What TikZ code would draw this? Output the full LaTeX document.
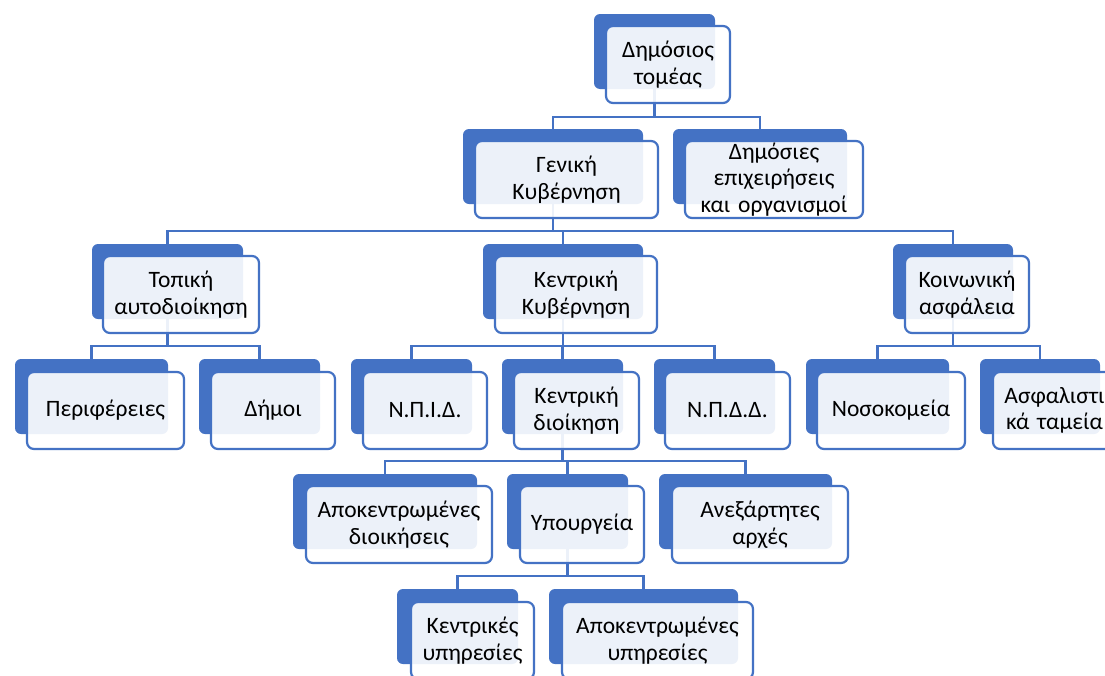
\documentclass[tikz,border=0pt]{standalone}
\usepackage{fontspec}
\setmainfont{Carlito}
\usetikzlibrary{backgrounds}
\definecolor{accent}{HTML}{4472C4}
\tikzset{
 darkbox/.style={draw=none, fill=accent, rounded corners=6pt, inner sep=0pt, outer sep=0pt, anchor=north west},
 frontbox/.style={draw=accent, line width=2.2pt, fill=white, fill opacity=0.9, text opacity=1, draw opacity=1, rounded corners=7pt, inner sep=0pt, outer sep=0pt, anchor=north west, align=center, font=\fontsize{23.5}{26.5}\selectfont, text=black},
 conn/.style={draw=accent, line width=2.2pt}
}
\newcommand{\mkbox}[8]{%
 \node[darkbox, minimum width={#3pt-#2pt}, minimum height=75pt] (#1d) at (#2,#4) {};
 \node[frontbox, minimum width={#6pt-#5pt}, minimum height=77pt, text width={#6pt-#5pt}] (#1) at (#5,#7) {#8};
}
\begin{document}
\begin{tikzpicture}[x=1pt,y=-1pt]
\useasboundingbox (0,0) rectangle (1105,675);
\clip (0,0) rectangle (1105,675);
\mkbox{ds}{594}{715}{14}{606}{730}{26}{Δημόσιος\\τομέας}
\mkbox{gk}{463}{643}{129}{475}{658}{141}{Γενική\\Κυβέρνηση}
\mkbox{de}{673}{847}{129}{685}{863}{141}{Δημόσιες\\επιχειρήσεις\\και οργανισμοί}
\mkbox{ta}{92}{243}{244}{103}{259}{256}{Τοπική\\αυτοδιοίκηση}
\mkbox{kk}{483}{643}{244}{495}{657}{256}{Κεντρική\\Κυβέρνηση}
\mkbox{ka}{893}{1013}{244}{905}{1029}{256}{Κοινωνική\\ασφάλεια}
\mkbox{pe}{15}{168}{359}{27}{184}{372}{Περιφέρειες}
\mkbox{dh}{199}{320}{359}{211}{335}{372}{Δήμοι}
\mkbox{npid}{351}{472}{359}{363}{487}{372}{Ν.Π.Ι.Δ.}
\mkbox{kd}{502}{623}{359}{514}{639}{372}{Κεντρική\\διοίκηση}
\mkbox{npdd}{654}{775}{359}{665}{790}{372}{Ν.Π.Δ.Δ.}
\mkbox{no}{806}{949}{359}{817}{965}{372}{Νοσοκομεία}
\mkbox{as}{980}{1100}{359}{993}{1116}{372}{Ασφαλιστι\\κά ταμεία}
\mkbox{ad}{293}{477}{474}{306}{492}{486}{Αποκεντρωμένες\\διοικήσεις}
\mkbox{yp}{507}{628}{474}{520}{644}{486}{Υπουργεία}
\mkbox{an}{659}{832}{474}{672}{848}{486}{Ανεξάρτητες\\αρχές}
\mkbox{ky}{397}{518}{589}{411}{534}{602}{Κεντρικές\\υπηρεσίες}
\mkbox{ay}{549}{738}{589}{562}{753}{602}{Αποκεντρωμένες\\υπηρεσίες}
\begin{scope}[on background layer]
\fill[white] (0,0) rectangle (1105,675);
\foreach \p/\c/\y in {ds/gk/117, ds/de/117,
  gk/ta/231, gk/kk/231, gk/ka/231,
  ta/pe/346, ta/dh/346,
  kk/npid/346, kk/kd/346, kk/npdd/346,
  ka/no/346, ka/as/346,
  kd/ad/461, kd/yp/461, kd/an/461,
  yp/ky/576, yp/ay/576}
  \draw[conn] (\p d.south) -- (\p d.south |- 0,\y) -| (\c d.north);
\end{scope}
\end{tikzpicture}
\end{document}
